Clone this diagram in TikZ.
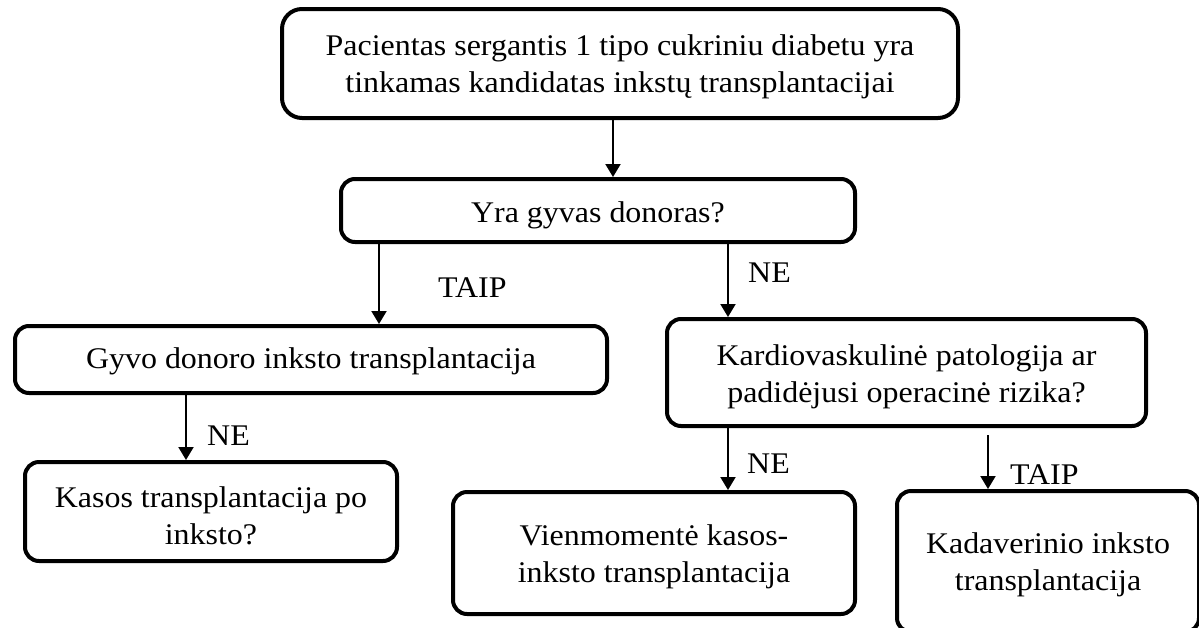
\documentclass[tikz,border=0pt]{standalone}
\usepackage{fontspec}
\setmainfont{Liberation Serif}[FakeStretch=1.065]
\usetikzlibrary{arrows.meta}
\newcommand\ts[1]{\rule{0pt}{#1pt}}
\begin{document}
\begin{tikzpicture}[x=1pt,y=-1pt,
  box/.style={draw=black, line width=4pt, rounded corners=14pt, align=center, inner sep=0pt,
    font=\fontsize{30pt}{37pt}\selectfont},
  arr/.style={line width=2pt, -{Triangle[length=13pt,width=15pt]}},
  lbl/.style={inner sep=0pt, anchor=base west, font=\fontsize{30pt}{37pt}\selectfont}]
\useasboundingbox (0,0) rectangle (1199,627);
\clip (0,0) rectangle (1199,627);

\node[box, rounded corners=20pt, minimum width=676pt, minimum height=109pt] (top) at (620,63.5)
  {\ts{26.5}Pacientas sergantis 1 tipo cukriniu diabetu yra\\ tinkamas kandidatas inkstų transplantacijai};
\node[box, minimum width=514pt, minimum height=63pt] (yra) at (598,210.5)
  {\ts{29.5}Yra gyvas donoras?};
\node[box, minimum width=592pt, minimum height=67pt] (gyvo) at (311,359.5)
  {\ts{23.5}Gyvo donoro inksto transplantacija};
\node[box, minimum width=479pt, minimum height=107pt] (kardio) at (906.5,372.5)
  {\ts{28.5}Kardiovaskulinė patologija ar\\ padidėjusi operacinė rizika?};
\node[box, minimum width=372pt, minimum height=99pt] (kasos) at (211,511.5)
  {\ts{28.5}Kasos transplantacija po\\ inksto?};
\node[box, minimum width=402pt, minimum height=122pt] (vien) at (654,553)
  {\ts{27.5}Vienmomentė kasos-\\ inksto transplantacija};
\node[box, minimum width=302pt, minimum height=141pt] (kadav) at (1048,561.5)
  {\ts{28}Kadaverinio inksto\\ transplantacija};

\coordinate (xa) at (613,0);
\coordinate (xb) at (379,0);
\coordinate (xc) at (728,0);
\coordinate (xd) at (186,0);
\coordinate (xe) at (728,0);
\coordinate (xf) at (988,0);

\draw[arr] (top.south -| xa) -- (yra.north -| xa);
\draw[arr] (yra.south -| xb) -- (gyvo.north -| xb);
\draw[arr] (yra.south -| xc) -- (kardio.north -| xc);
\draw[arr] (gyvo.south -| xd) -- (kasos.north -| xd);
\draw[arr] (kardio.south -| xe) -- (vien.north -| xe);
\draw[arr, shorten <=7pt] (kardio.south -| xf) -- (kadav.north -| xf);

\node[lbl] (l1) at (438,297) {TAIP};
\node[lbl] (l2) at (748,282) {NE};
\node[lbl] (l3) at (207,445) {NE};
\node[lbl] (l4) at (747,473) {NE};
\node[lbl] (l5) at (1010,484) {TAIP};
\end{tikzpicture}
\end{document}
